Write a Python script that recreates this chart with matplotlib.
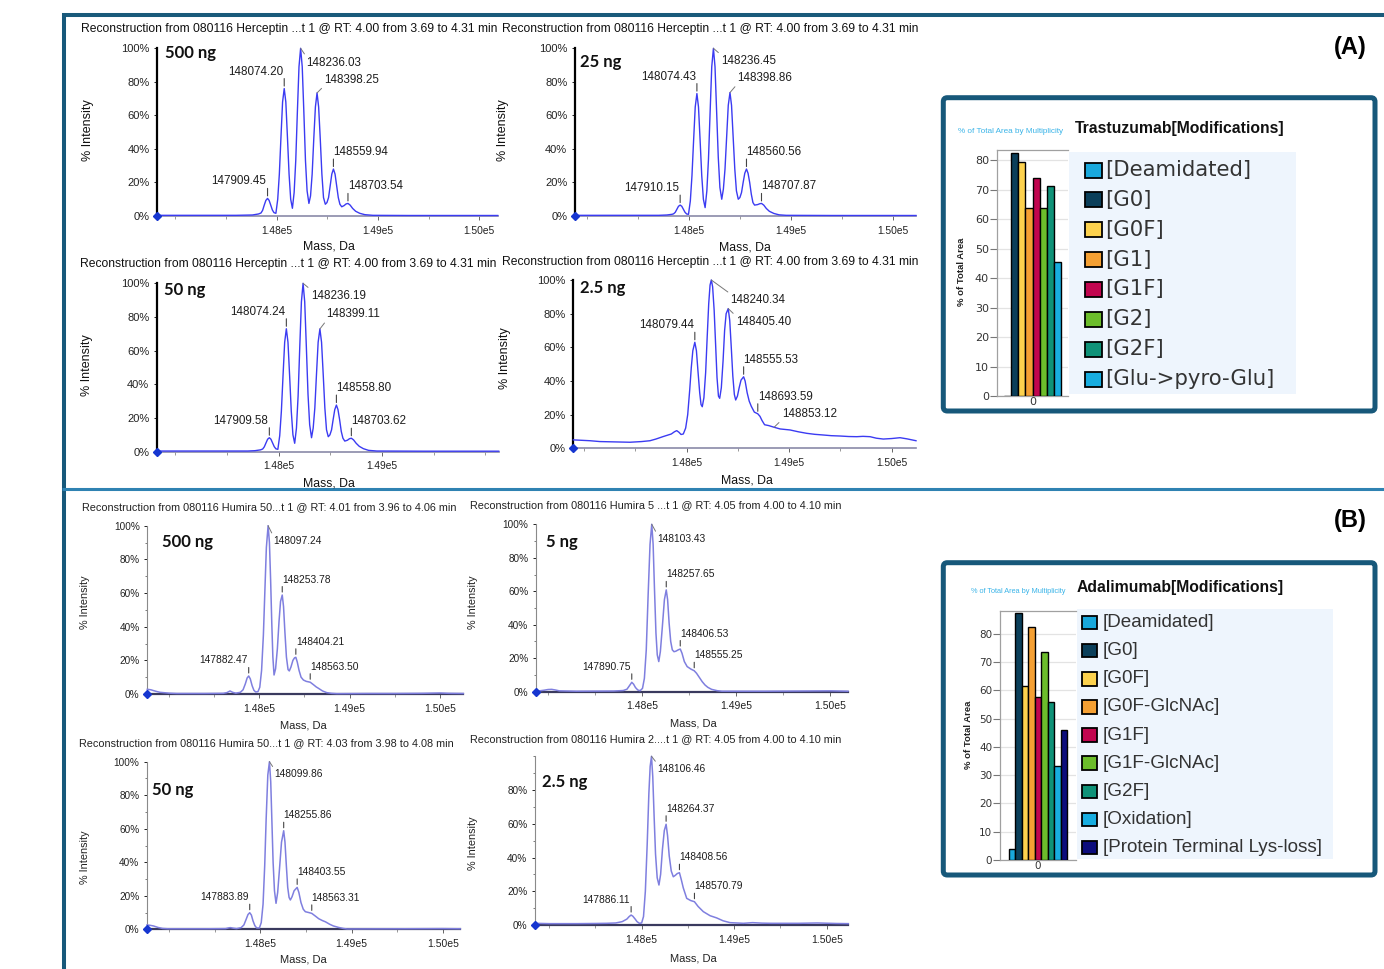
import matplotlib
matplotlib.use("Agg")
import matplotlib.pyplot as plt
from matplotlib import font_manager
from matplotlib.patches import FancyBboxPatch, Rectangle
from matplotlib.ticker import MultipleLocator

W, H = 1384, 969


def has_font(name):
    try:
        font_manager.findfont(name, fallback_to_default=False)
        return True
    except ValueError:
        return False


SANS = "Liberation Sans"
NARROW = "Liberation Sans Narrow" if has_font("Liberation Sans Narrow") else None
BOLDNG = "Lato"

# ---------------- data: Herceptin (A) deconvoluted spectra ----------------
A500_MASS = [146821, 147200, 147600, 147760, 147820,
             147845, 147861, 147877, 147893, 147909.45, 147925, 147941, 147957, 147973, 147992,
             148010, 148026, 148042, 148058, 148074.20, 148090, 148106, 148122, 148138, 148155,
             148172, 148188, 148204, 148220, 148236.03, 148252, 148268, 148284, 148300, 148318,
             148334, 148350, 148366, 148382, 148398.25, 148414, 148430, 148446, 148462, 148480,
             148496, 148512, 148528, 148544, 148559.94, 148576, 148592, 148608, 148624, 148642,
             148665, 148685, 148703.54, 148725, 148750, 148780, 148820, 148870, 148950, 149300,
             149800, 150182]
A500_INT = [0.4, 0.4, 0.4, 0.6, 1.2,
            1.8, 3.4, 6.5, 9.3, 10.5, 9.3, 6.5, 3.6, 2.0, 1.6,
            10, 25, 47, 68, 76, 68, 47, 25, 10, 4.6,
            14, 33, 62, 89, 100, 89, 62, 33, 15, 7.5,
            12, 25, 46, 65, 73.4, 65, 46, 25, 11, 7,
            8, 11, 18, 25, 28, 25, 18, 11, 7, 5.5,
            6.2, 7.2, 7.5, 6.5, 4.5, 2.8, 1.6, 0.8, 0.4, 0.3,
            0.3, 0.3]
A500_PEAKS = [147909.45, 148074.20, 148236.03, 148398.25, 148559.94, 148703.54]
A500_HEIGHTS = [10.5, 76, 100, 73.4, 28, 7.5]

A25_MASS = [146879, 147300, 147700, 147780, 147830,
            147846, 147862, 147878, 147894, 147910.15, 147926, 147942, 147958, 147974, 147992,
            148010, 148026, 148042, 148058, 148074.43, 148090, 148106, 148122, 148138, 148155,
            148172, 148188, 148204, 148220, 148236.45, 148252, 148268, 148284, 148300, 148318,
            148334, 148350, 148366, 148382, 148398.86, 148414, 148430, 148446, 148462, 148480,
            148496, 148512, 148528, 148544, 148560.56, 148576, 148592, 148608, 148624, 148640,
            148670, 148690, 148707.87, 148730, 148755, 148785, 148830, 148880, 148950, 149400,
            149900, 150223]
A25_INT = [0.4, 0.4, 0.4, 0.6, 1.0,
           1.3, 2.2, 4.0, 5.8, 6.5, 5.8, 4.0, 2.2, 1.2, 1.0,
           9, 24, 45, 65, 73, 65, 45, 24, 10, 5,
           15, 34, 62, 89, 100, 89, 62, 35, 17, 10,
           16, 28, 47, 66, 73.6, 66, 47, 28, 15, 10,
           11, 14, 20, 25.5, 28, 25.5, 20, 13, 8, 6.5,
           6.8, 7.3, 7.5, 6.5, 4.5, 2.8, 1.5, 0.7, 0.4, 0.3,
           0.3, 0.3]
A25_PEAKS = [147910.15, 148074.43, 148236.45, 148398.86, 148560.56, 148707.87]
A25_HEIGHTS = [6.5, 73, 100, 73.6, 28, 7.5]

A50_MASS = [146822, 147300, 147700, 147770, 147825,
            147845, 147861, 147877, 147893, 147909.58, 147925, 147941, 147957, 147973, 147992,
            148010, 148026, 148042, 148058, 148074.24, 148090, 148106, 148122, 148138, 148155,
            148172, 148188, 148204, 148220, 148236.19, 148252, 148268, 148284, 148300, 148318,
            148334, 148350, 148366, 148382, 148399.11, 148415, 148431, 148447, 148463, 148480,
            148496, 148512, 148527, 148543, 148558.80, 148574, 148590, 148606, 148622, 148640,
            148665, 148685, 148703.62, 148725, 148750, 148780, 148820, 148870, 148950, 149400,
            149900, 150130]
A50_INT = [0.4, 0.4, 0.4, 0.6, 1.1,
           1.6, 2.9, 5.2, 7.4, 8.3, 7.4, 5.2, 3.0, 1.7, 1.4,
           9.5, 24, 45, 65, 73, 65, 45, 24, 10, 5,
           14, 33, 62, 89, 100, 89, 62, 34, 16, 8.3,
           14, 26, 46, 65, 72.9, 65, 46, 26, 13, 8.9,
           10, 13, 19, 25, 27.7, 25, 19, 12, 8, 6.3,
           6.8, 7.7, 8, 7, 5, 3.2, 1.8, 0.8, 0.4, 0.3,
           0.3, 0.3]
A50_PEAKS = [147909.58, 148074.24, 148236.19, 148399.11, 148558.80, 148703.62]
A50_HEIGHTS = [8.3, 73, 100, 72.9, 27.7, 8]

A2_5_MASS = [146894, 147057, 147154, 147300, 147447, 147560, 147642, 147700, 147772, 147850,
             147880, 147903, 147925, 147945, 147967, 147990, 148010, 148030, 148045, 148060,
             148079.44, 148095, 148110, 148127, 148140, 148152, 148168, 148185, 148200, 148215,
             148228, 148240.34, 148253, 148268, 148282, 148296, 148310, 148322, 148338, 148355,
             148370, 148385, 148405.40, 148420, 148435, 148450, 148465, 148478, 148495, 148512,
             148530, 148555.53, 148570, 148590, 148610, 148630, 148660, 148693.59, 148715, 148735,
             148760, 148800, 148853.12, 148911, 149008, 149090, 149171, 149250, 149333, 149410,
             149496, 149580, 149659, 149720, 149789, 149850, 149918, 150000, 150081, 150150,
             150237]
A2_5_INT = [5.0, 4.5, 4.0, 3.8, 3.6, 4.0, 4.5, 5.5, 7.0, 8.5,
            9.8, 10.5, 9.5, 8.2, 8.5, 12, 20, 35, 48, 58,
            63, 58, 46, 33, 26, 24.7, 30, 45, 66, 86,
            97, 100, 96, 82, 62, 42, 31, 29.7, 36, 52,
            70, 80, 83, 76, 60, 43, 32, 28.7, 31, 36,
            40.5, 42.5, 40, 33, 28, 25, 21.5, 20.5, 19, 16.5,
            14, 13.5, 12.5, 11.5, 10.9, 9.8, 8.9, 8.3, 7.9, 7.5,
            7.3, 7.0, 6.9, 7.1, 6.9, 6.0, 5.5, 5.8, 6.3, 5.6,
            4.5]
A2_5_PEAKS = [148079.44, 148240.34, 148405.40, 148555.53, 148693.59, 148853.12]
A2_5_HEIGHTS = [63, 100, 83, 42.5, 20.5, 12.5]

# ---------------- data: Humira (B) deconvoluted spectra ----------------
B500_MASS = [146760, 146800, 146830, 146870, 146901, 147000, 147086, 147400, 147600, 147640,
             147676, 147705, 147740, 147790, 147820, 147845, 147865, 147882.47, 147900, 147920,
             147940, 147960, 147985, 148005, 148025, 148045, 148062, 148078, 148097.24, 148112,
             148125, 148138, 148150, 148163, 148180, 148200, 148218, 148235, 148253.78, 148268,
             148283, 148300, 148318, 148332, 148350, 148372, 148390, 148404.21, 148420, 148440,
             148462, 148488, 148520, 148563.50, 148600, 148630, 148654, 148700, 148747, 148800,
             148857, 149200, 149500, 149800, 150000, 150100, 150258]
B500_INT = [2.8, 2.5, 2.0, 1.4, 1.0, 0.5, 0.3, 0.3, 0.4, 0.8,
            1.8, 1.0, 0.5, 1.0, 2.5, 6, 9.5, 10.7, 9, 5,
            2.2, 1.2, 1.4, 4, 14, 35, 62, 87, 100, 90,
            68, 42, 22, 11.3, 15, 27, 43, 55, 58.8, 52,
            37, 22, 14.5, 13.7, 16, 20, 21.5, 21.8, 19, 14,
            10, 8.3, 7.5, 7, 5.5, 4.2, 3.4, 1.8, 0.8, 0.4,
            0.2, 0.3, 0.3, 0.4, 0.6, 0.4, 0.3]
B500_PEAKS = [147882.47, 148097.24, 148253.78, 148404.21, 148563.50]
B500_HEIGHTS = [10.7, 100, 58.8, 21.8, 7]

B5_MASS = [146872, 146920, 146960, 147000, 147039, 147080, 147120, 147300, 147700, 147800,
           147840, 147865, 147890.75, 147910, 147930, 147955, 147980, 148005, 148025, 148045,
           148065, 148085, 148103.43, 148118, 148132, 148148, 148162, 148178, 148195, 148215,
           148238, 148257.65, 148272, 148288, 148305, 148322, 148340, 148360, 148385, 148406.53,
           148425, 148450, 148480, 148520, 148555.25, 148580, 148610, 148640, 148670, 148700,
           148740, 148800, 148850, 149300, 149700, 150000, 150191]
B5_INT = [0.3, 0.6, 0.9, 1.3, 1.4, 1.0, 0.5, 0.3, 0.4, 0.7,
          1.5, 3.5, 5.6, 4.5, 2.5, 1.0, 0.6, 2, 8, 25,
          58, 88, 100, 88, 62, 35, 22, 18, 24, 38,
          55, 60.8, 55, 41, 30, 25, 23.9, 24.2, 25, 25.5,
          23, 18, 15, 13.5, 12.5, 11, 8.5, 6, 4, 2.6,
          1.4, 0.6, 0.3, 0.3, 0.4, 0.5, 0.3]
B5_PEAKS = [147890.75, 148103.43, 148257.65, 148406.53, 148555.25]
B5_HEIGHTS = [5.6, 100, 60.8, 25.5, 12.5]

B50_MASS = [146759, 146790, 146830, 146880, 146930, 146990, 147400, 147620, 147650, 147671,
            147700, 147740, 147790, 147820, 147845, 147865, 147883.89, 147902, 147920, 147940,
            147960, 147990, 148010, 148030, 148048, 148064, 148082, 148099.86, 148114, 148127,
            148140, 148155, 148172, 148190, 148210, 148232, 148255.86, 148270, 148285, 148300,
            148315, 148329, 148348, 148370, 148403.55, 148422, 148445, 148470, 148493, 148530,
            148563.31, 148600, 148640, 148680, 148712, 148760, 148800, 148858, 148910, 148950,
            149500, 150000, 150190]
B50_INT = [2.6, 2.4, 2.0, 1.1, 0.5, 0.3, 0.3, 0.4, 0.8, 1.0,
           0.7, 0.4, 1.0, 2.6, 6, 8.8, 9.9, 8.5, 5, 2.2,
           0.8, 0.8, 4, 15, 38, 66, 92, 100, 88, 64,
           40, 23, 15.5, 22, 36, 52, 58.8, 52, 38, 25,
           19, 17.5, 19.5, 23, 25, 22, 16, 12, 10.5, 10,
           9.5, 8, 6.3, 5.2, 4.5, 3, 2, 1.1, 0.5, 0.2,
           0.3, 0.4, 0.3]
B50_PEAKS = [147883.89, 148099.86, 148255.86, 148403.55, 148563.31]
B50_HEIGHTS = [9.9, 100, 58.8, 25, 9.5]

B2_5_MASS = [146847, 147000, 147300, 147500, 147622, 147720, 147790, 147840, 147865, 147886.11,
             147905, 147930, 147950, 147975, 148000, 148020, 148040, 148060, 148078, 148092,
             148106.46, 148120, 148135, 148150, 148168, 148187, 148205, 148225, 148245, 148264.37,
             148280, 148298, 148320, 148342, 148365, 148385, 148408.56, 148428, 148450, 148487,
             148530, 148570.79, 148610, 148667, 148740, 148811, 148880, 148955, 149100, 149200,
             149300, 149400, 149700, 149900, 150100, 150234]
B2_5_INT = [1.0, 0.8, 0.8, 0.9, 1.0, 1.2, 2, 3.5, 5, 5.9,
            5.2, 3.5, 2, 1.0, 1.2, 5, 20, 48, 78, 94,
            100, 88, 64, 42, 28, 23.7, 30, 45, 56, 59.7,
            53, 41, 32, 28.6, 29.5, 30.5, 31, 27, 22, 15.8,
            14.5, 13.8, 11, 7.9, 5.5, 4.2, 2.5, 1.4, 1.0, 1.4,
            1.1, 1.0, 1.0, 1.2, 0.9, 0.8]
B2_5_PEAKS = [147886.11, 148106.46, 148264.37, 148408.56, 148570.79]
B2_5_HEIGHTS = [5.9, 100, 59.7, 31, 13.8]

# ---------------- data: modification bar charts ----------------
TRAS_CATS = ["[Deamidated]", "[G0]", "[G0F]", "[G1]", "[G1F]", "[G2]", "[G2F]", "[Glu->pyro-Glu]"]
TRAS_VALS = [0, 82.3, 79.4, 63.8, 74.0, 63.8, 71.3, 45.5]
TRAS_COLORS = ["#19a8dc", "#0b3f5a", "#fdd24e", "#f5a033", "#c1054f", "#6cbd2b", "#0f9278", "#18ade0"]

ADA_CATS = ["[Deamidated]", "[G0]", "[G0F]", "[G0F-GlcNAc]", "[G1F]", "[G1F-GlcNAc]", "[G2F]",
            "[Oxidation]", "[Protein Terminal Lys-loss]"]
ADA_VALS = [3.8, 87.3, 61.6, 82.4, 57.6, 73.7, 56.0, 33.3, 46.0]
ADA_COLORS = ["#19a8dc", "#0b3f5a", "#fdd24e", "#f5a033", "#c1054f", "#6cbd2b", "#0f9278",
              "#18ade0", "#0c0c7c"]

TITLE_A = "Reconstruction from 080116 Herceptin ...t 1 @ RT: 4.00 from 3.69 to 4.31 min"
TITLE_B = ["Reconstruction from 080116 Humira 50...t 1 @ RT: 4.01 from 3.96 to 4.06 min",
           "Reconstruction from 080116 Humira 5 ...t 1 @ RT: 4.05 from 4.00 to 4.10 min",
           "Reconstruction from 080116 Humira 50...t 1 @ RT: 4.03 from 3.98 to 4.08 min",
           "Reconstruction from 080116 Humira 2....t 1 @ RT: 4.05 from 4.00 to 4.10 min"]

# ---------------- styles ----------------
STYLE_A = dict(line="#3b3bf2", lw=1.0, lcol="black", llw=1.6, bcol="#8a8aa8", blw=1.2,
               ytfs=8, xtfs=7.4, pfs=8.4, tick_top=10, tick_bot=2.5, text_up=17, minor_y=False)
STYLE_B = dict(line="#7f7fdf", lw=1.1, lcol="#8a8a8a", llw=0.8, bcol="#3a3a5e", blw=1.6,
               ytfs=7.2, xtfs=7.5, pfs=7.4, tick_top=8.5, tick_bot=3, text_up=15.5, minor_y=True)


def px_axes(fig, box):
    l, t, r, b = box
    return fig.add_axes([l / W, 1 - b / H, (r - l) / W, (b - t) / H])


def spectrum(fig, box, xlim, mass, inten, peaks, heights, notes, st,
             yticks=(0, 20, 40, 60, 80, 100), xticks=(148000, 149000, 150000)):
    ax = px_axes(fig, box)
    ax.set_facecolor("none")
    ax.plot(mass, inten, color=st["line"], lw=st["lw"], clip_on=False, zorder=3)
    ax.set_xlim(*xlim)
    ax.set_ylim(0, 100)
    ax.spines["top"].set_visible(False)
    ax.spines["right"].set_visible(False)
    ax.spines["left"].set(color=st["lcol"], lw=st["llw"])
    ax.spines["bottom"].set(color=st["bcol"], lw=st["blw"])
    ax.set_yticks(list(yticks))
    ax.set_yticklabels([f"{v}%" for v in yticks], fontsize=st["ytfs"], family=SANS)
    ax.set_xticks(list(xticks))
    ax.set_xticklabels([f"{v / 1e5:.2f}e5" for v in xticks], fontsize=st["xtfs"], family=SANS)
    ax.xaxis.set_minor_locator(MultipleLocator(500))
    if st["minor_y"]:
        ax.yaxis.set_minor_locator(MultipleLocator(10))
    ax.tick_params(axis="y", which="major", length=2.5, width=0.7, colors="#222", pad=3)
    ax.tick_params(axis="y", which="minor", length=1.5, width=0.6, color="#666")
    ax.tick_params(axis="x", which="major", length=3, width=0.7, color="#666",
                   labelcolor="#222", pad=4)
    ax.tick_params(axis="x", which="minor", length=2, width=0.6, color="#888")
    ax.plot([xlim[0]], [0], marker="D", ms=4.5, color="#1636d0", clip_on=False, zorder=5)
    for m, h, (kind, dx, dy) in zip(peaks, heights, notes):
        lab = f"{m:.2f}"
        if kind in ("L", "R"):
            ax.annotate("", xy=(m, h), xytext=(0, st["tick_top"]), textcoords="offset pixels",
                        arrowprops=dict(arrowstyle="-", color="#444", lw=0.8, shrinkA=0,
                                        shrinkB=st["tick_bot"] * 0.72))
            ax.annotate(lab, xy=(m, h), xytext=(-1 if kind == "R" else 0, st["text_up"]),
                        textcoords="offset pixels", ha="right" if kind == "R" else "left",
                        va="center", fontsize=st["pfs"], family=SANS, color="#1e1e1e")
        else:
            ax.annotate(lab, xy=(m, h), xytext=(dx, dy), textcoords="offset pixels",
                        ha="left", va="center", fontsize=st["pfs"], family=SANS, color="#1e1e1e",
                        arrowprops=dict(arrowstyle="-", color="#777", lw=0.7, shrinkA=0, shrinkB=0,
                                        relpos=(0, 1) if kind == "D" else (0, 0)))
    return ax


def bar_inset(fig, bg, box, ytop, vals, colors, cats, leg):
    ax = px_axes(fig, box)
    ax.set_facecolor("none")
    n = len(vals)
    w = leg["bar_w"]
    xs = [(i - (n - 1) / 2) * w for i in range(n)]
    ax.bar(xs, vals, width=w, color=colors, edgecolor="black", lw=1.0, zorder=3)
    ax.set_xlim(-0.5, 0.5)
    ax.set_ylim(0, ytop)
    ax.set_yticks(range(0, 81, 10))
    ax.set_yticklabels([str(v) for v in range(0, 81, 10)], family="DejaVu Sans",
                       fontsize=leg["tfs"], color="#333")
    ax.set_xticks([0])
    ax.set_xticklabels(["0"], family="DejaVu Sans", fontsize=leg["tfs"], color="#333")
    ax.grid(axis="y", color="#e3e3e3", lw=0.9, zorder=0)
    ax.tick_params(axis="y", length=5, width=0.8, color="#777", pad=0.5)
    ax.tick_params(axis="x", length=0, pad=1)
    for s in ("left", "top", "bottom"):
        ax.spines[s].set(color="#a0a0a0", lw=0.9)
    ax.spines["right"].set_visible(False)

    # legend panel
    l, t, r, b = leg["bg"]
    bg.add_patch(Rectangle((l, t), r - l, b - t, facecolor="#eef5fd", edgecolor="none", zorder=1))
    sx0, sx1, sh = leg["swatch"]
    for i, (c, lab) in enumerate(zip(colors, cats)):
        y = leg["y0"] + i * leg["dy"]
        bg.add_patch(Rectangle((sx0, y - sh / 2), sx1 - sx0, sh, facecolor=c, edgecolor="black",
                               lw=1.3, zorder=2))
        bg.text(leg["tx"], y, lab, ha="left", va="center", fontsize=leg["lfs"],
                family=leg["lfam"], color="#333", zorder=3)
    return ax


fig = plt.figure(figsize=(W / 100, H / 100), dpi=100)
bg = fig.add_axes([0, 0, 1, 1])
bg.set_xlim(0, W)
bg.set_ylim(H, 0)
bg.axis("off")

# outer frame lines
bg.plot([62, W], [14.5, 14.5], color="#1a5a7a", lw=2.9, solid_capstyle="butt")
bg.plot([64, 64], [12.5, H], color="#17587a", lw=2.9, solid_capstyle="butt")
bg.plot([62, W], [488.5, 488.5], color="#2f82b2", lw=2.2, solid_capstyle="butt")
bg.text(1350, 47, "(A)", ha="center", va="center", fontsize=17, fontweight="bold", family=SANS)
bg.text(1350, 520, "(B)", ha="center", va="center", fontsize=17, fontweight="bold", family=SANS)

# ---------------- spectra (A) ----------------
R, L = ("R", 0, 0), ("L", 0, 0)
spectrum(fig, (157.3, 48.3, 497.7, 216), (146821, 150182), A500_MASS, A500_INT,
         A500_PEAKS, A500_HEIGHTS, [R, R, ("D", 5.7, -14.4), ("U", 7.3, 13.3), L, L], STYLE_A)
spectrum(fig, (575, 48.3, 916, 216), (146879, 150223), A25_MASS, A25_INT,
         A25_PEAKS, A25_HEIGHTS, [R, R, ("D", 7.7, -12.7), ("U", 7.3, 14.6), L, L], STYLE_A)
spectrum(fig, (157, 283.3, 498.7, 451.7), (146822, 150130), A50_MASS, A50_INT,
         A50_PEAKS, A50_HEIGHTS, [R, R, ("D", 7.7, -12.4), ("U", 6.7, 14.7), L, L], STYLE_A,
         xticks=(148000, 149000))
spectrum(fig, (573.3, 280, 916, 448.3), (146894, 150237), A2_5_MASS, A2_5_INT,
         A2_5_PEAKS, A2_5_HEIGHTS,
         [R, ("D", 19.3, -20), ("D", 7.7, -13.4), L, L, ("U", 7.6, 13.4)], STYLE_A)

# ---------------- spectra (B) ----------------
spectrum(fig, (147.3, 525.7, 463.3, 694), (146760, 150258), B500_MASS, B500_INT,
         B500_PEAKS, B500_HEIGHTS, [R, ("D", 5, -15), L, L, L], STYLE_B)
spectrum(fig, (536, 524.3, 848, 691.7), (146872, 150191), B5_MASS, B5_INT,
         B5_PEAKS, B5_HEIGHTS, [R, ("D", 5.3, -14.7), L, L, L], STYLE_B)
spectrum(fig, (147, 761.7, 460.3, 929.3), (146759, 150190), B50_MASS, B50_INT,
         B50_PEAKS, B50_HEIGHTS, [R, ("D", 5, -12.6), L, L, L], STYLE_B)
spectrum(fig, (535, 756.3, 848.3, 925), (146847, 150234), B2_5_MASS, B2_5_INT,
         B2_5_PEAKS, B2_5_HEIGHTS, [R, ("D", 6, -12.7), L, L, L], STYLE_B,
         yticks=(0, 20, 40, 60, 80))

# titles, axis labels, amount labels
for x, y in [(81, 29), (501.7, 29), (80.3, 264.3), (501.7, 261.7)]:
    bg.text(x, y, TITLE_A, ha="left", va="center", fontsize=8.7, family=SANS, color="#111")
for (x, y), t in zip([(81.7, 506.7), (470, 505), (79.3, 742.7), (470, 739.3)], TITLE_B):
    bg.text(x, y, t, ha="left", va="center", fontsize=7.8, family=SANS, color="#222")

for x, y in [(329.3, 246.7), (745, 247.7), (328.7, 483), (746.7, 480)]:
    bg.text(x, y, "Mass, Da", ha="center", va="center", fontsize=8.8, family=SANS, color="#111")
for x, y in [(303.3, 725), (693.3, 723.3), (303.7, 960), (693.3, 958.3)]:
    bg.text(x, y, "Mass, Da", ha="center", va="center", fontsize=8, family=SANS, color="#222")
for x, y in [(88.3, 130), (503.3, 130), (87, 365), (505, 358)]:
    bg.text(x, y, "% Intensity", ha="center", va="center", rotation=90, fontsize=9,
            family=SANS, color="#111")
for x, y in [(85, 601.7), (472.7, 601.7), (85.3, 856.7), (472.7, 843.3)]:
    bg.text(x, y, "% Intensity", ha="center", va="center", rotation=90, fontsize=7.8,
            family=SANS, color="#222")

for x, y, t in [(165, 53.3, "500 ng"), (580, 61.7, "25 ng"), (163.7, 290, "50 ng"),
                (580, 288.3, "2.5 ng"), (161.7, 541.7, "500 ng"), (546, 541.7, "5 ng"),
                (152, 790, "50 ng"), (541.7, 781.7, "2.5 ng")]:
    bg.text(x, y, t, ha="left", va="center", fontsize=12, fontweight="bold", family=BOLDNG,
            color="#111")

# ---------------- modification insets ----------------
for (l, t, r, b) in [(943.3, 97.7, 1375, 411), (943.3, 562.7, 1375, 875)]:
    bg.add_patch(FancyBboxPatch((l, t), r - l, b - t, boxstyle="round,pad=0,rounding_size=4",
                                facecolor="white", edgecolor="#17587a", lw=3.6, zorder=0.5))

small_fam = NARROW if NARROW else SANS
bg.text(958.3, 131.7, "% of Total Area by Multiplicity", ha="left", va="center",
        fontsize=7.2 if NARROW else 5.9, family=small_fam, color="#3ab4e8")
bg.text(970.7, 591.7, "% of Total Area by Multiplicity", ha="left", va="center",
        fontsize=6.4 if NARROW else 5.3, family=small_fam, color="#3ab4e8")
bg.text(1075, 128.3, "Trastuzumab[Modifications]", ha="left", va="center", fontsize=11.3,
        fontweight="bold", family=SANS, color="#111")
bg.text(1076.7, 587.3, "Adalimumab[Modifications]", ha="left", va="center", fontsize=11.3,
        fontweight="bold", family=SANS, color="#111")
for x, y in [(961.7, 271.7), (968.3, 735)]:
    bg.text(x, y, "% of Total Area", ha="center", va="center", rotation=90,
            fontsize=8 if NARROW else 6.8, fontweight="bold", family=small_fam, color="#222")

bar_inset(fig, bg, (996.7, 150, 1068.3, 396), 83.4, TRAS_VALS, TRAS_COLORS, TRAS_CATS,
          dict(bar_w=0.101, tfs=8, bg=(1069.3, 152.3, 1296, 394.3), swatch=(1085, 1101.7, 15),
               y0=170, dy=29.86, tx=1105, lfs=15.3, lfam="DejaVu Sans"))
bar_inset(fig, bg, (1000, 610.7, 1076, 860), 88.2, ADA_VALS, ADA_COLORS, ADA_CATS,
          dict(bar_w=0.0848, tfs=7.5, bg=(1076.7, 609.3, 1332.7, 859.3),
               swatch=(1082.3, 1097.3, 13.3), y0=622.7, dy=28.08, tx=1102.7,
               lfs=16.3 if NARROW else 13.6, lfam=small_fam))

fig.savefig("out.png", dpi=100)
